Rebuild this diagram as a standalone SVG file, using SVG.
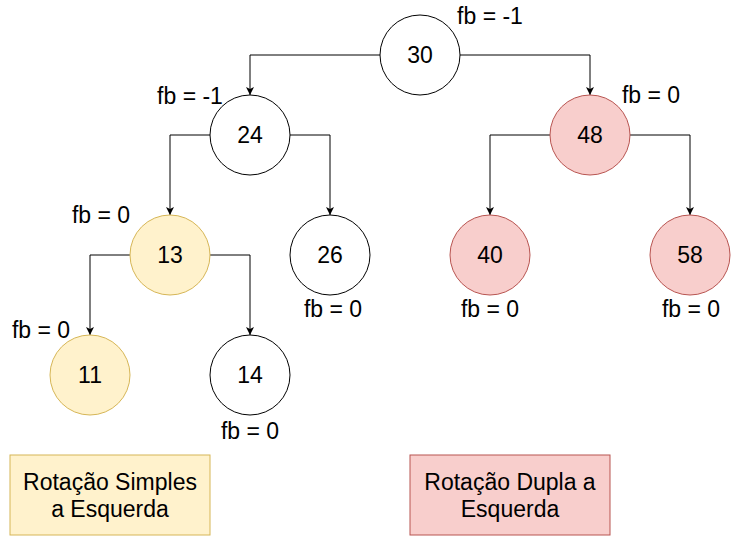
<svg xmlns="http://www.w3.org/2000/svg" width="731" height="536" viewBox="0 0 731 536">
<style>
text{font-family:"Liberation Sans",Arial,sans-serif;font-size:23px;fill:#000;text-anchor:middle}
.w{fill:#fff;stroke:#000;stroke-width:1}
.y{fill:#fff2cc;stroke:#d6b656;stroke-width:1}
.p{fill:#f8cecc;stroke:#b85450;stroke-width:1}
.e{fill:none;stroke:#000;stroke-width:1;marker-end:url(#a)}
</style>
<defs>
<marker id="a" markerWidth="10" markerHeight="10" refX="8" refY="4" orient="auto" markerUnits="userSpaceOnUse">
<path d="M0,0 L8,4 L0,8 L2,4 Z" fill="#000"/>
</marker>
</defs>
<rect width="731" height="536" fill="#fff"/>
<g id="edges">
<path class="e" d="M380,55 H250 V95"/>
<path class="e" d="M460,55 H590 V95"/>
<path class="e" d="M210,135 H170 V215"/>
<path class="e" d="M290,135 H330 V215"/>
<path class="e" d="M550,135 H490 V215"/>
<path class="e" d="M630,135 H690 V215"/>
<path class="e" d="M130,255 H90 V335"/>
<path class="e" d="M210,255 H250 V335"/>
</g>
<g id="n30"><circle class="w" cx="420" cy="55" r="40"/><text x="420" y="63">30</text></g>
<g id="n24"><circle class="w" cx="250" cy="135" r="40"/><text x="250" y="143">24</text></g>
<g id="n48"><circle class="p" cx="590" cy="135" r="40"/><text x="590" y="143">48</text></g>
<g id="n13"><circle class="y" cx="170" cy="255" r="40"/><text x="170" y="263">13</text></g>
<g id="n26"><circle class="w" cx="330" cy="255" r="40"/><text x="330" y="263">26</text></g>
<g id="n40"><circle class="p" cx="490" cy="255" r="40"/><text x="490" y="263">40</text></g>
<g id="n58"><circle class="p" cx="690" cy="255" r="40"/><text x="690" y="263">58</text></g>
<g id="n11"><circle class="y" cx="90" cy="375" r="40"/><text x="90" y="383">11</text></g>
<g id="n14"><circle class="w" cx="250" cy="375" r="40"/><text x="250" y="383">14</text></g>
<g id="labels">
<text x="490" y="24">fb = -1</text>
<text x="190" y="104">fb = -1</text>
<text x="651" y="103">fb = 0</text>
<text x="101" y="223">fb = 0</text>
<text x="333" y="317">fb = 0</text>
<text x="490" y="317">fb = 0</text>
<text x="691" y="317">fb = 0</text>
<text x="41" y="338">fb = 0</text>
<text x="250" y="439">fb = 0</text>
</g>
<g id="box1"><rect class="y" x="10" y="455" width="200" height="80"/><text x="110" y="490">Rotação Simples</text><text x="110" y="517">a Esquerda</text></g>
<g id="box2"><rect class="p" x="410" y="455" width="200" height="80"/><text x="510" y="490">Rotação Dupla a</text><text x="510" y="517">Esquerda</text></g>
</svg>
